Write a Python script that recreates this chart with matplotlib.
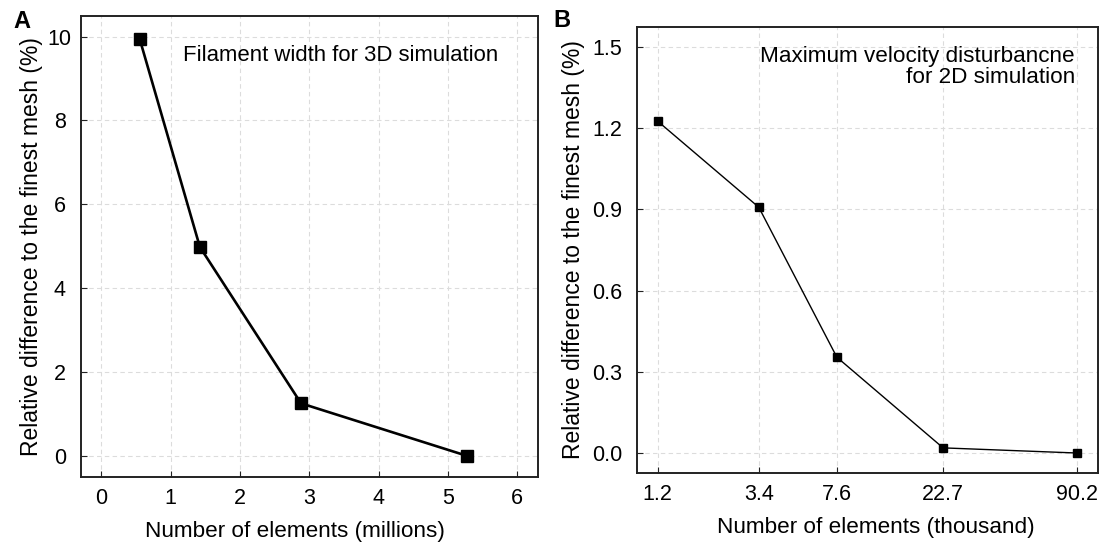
import matplotlib.pyplot as plt

plt.rcParams['font.family'] = ['Liberation Sans', 'DejaVu Sans']

# Panel A: filament width, 3D simulation
elements_3d = [0.55, 1.42, 2.88, 5.27]          # millions
diff_3d = [9.95, 4.98, 1.25, 0.0]               # %

# Panel B: max velocity disturbance, 2D simulation
elements_2d = [1.2, 3.4, 7.6, 22.7, 90.2]       # thousand
diff_2d = [1.226, 0.908, 0.354, 0.019, 0.0]     # %
xticks_2d = ['1.2', '3.4', '7.6', '22.7', '90.2']

fs = 15.5
fig = plt.figure(figsize=(11.1, 5.47), dpi=100)
ax1 = fig.add_axes([0.0727, 0.1285, 0.412, 0.843])
ax2 = fig.add_axes([0.5736, 0.1347, 0.4156, 0.8165])

for ax in (ax1, ax2):
    ax.grid(True, color='#dcdcdc', linestyle=(0, (4, 3)), linewidth=0.8)
    ax.set_axisbelow(True)
    for s in ax.spines.values():
        s.set_linewidth(1.4)
        s.set_color('#222222')
    ax.tick_params(direction='in', length=4, width=0.8, labelsize=fs,
                   colors='#222222', labelcolor='black')
    ax.tick_params(axis='x', pad=8)
    ax.set_ylabel('Relative difference to the finest mesh (%)', fontsize=16.5)

# A
ax1.plot(elements_3d, diff_3d, color='black', lw=1.9, marker='s', ms=8.5)
ax1.set_xlim(-0.3, 6.3)
ax1.set_ylim(-0.5, 10.5)
ax1.set_xticks(range(0, 7))
ax1.set_yticks(range(0, 11, 2))
ax1.tick_params(axis='y', pad=15)
for lab in ax1.get_yticklabels():
    lab.set_horizontalalignment('center')
ax1.set_xlabel('Number of elements (millions)', fontsize=16.2)
ax1.xaxis.set_label_coords(0.4675, -0.095)
ax1.yaxis.set_label_coords(-0.082, 0.5)
ax1.text(0.9125, 0.913, 'Filament width for 3D simulation', transform=ax1.transAxes,
         ha='right', va='center', fontsize=15.9)
fig.text(0.0195, 0.96, 'A', fontsize=17, fontweight='bold', ha='center', va='center')

# B
ax2.plot(elements_2d, diff_2d, color='black', lw=1.0, marker='s', ms=6)
ax2.set_xscale('log')
ax2.set_xticks(elements_2d)
ax2.set_xticklabels(xticks_2d)
ax2.xaxis.set_minor_locator(plt.NullLocator())
ax2.set_ylim(-0.075, 1.575)
ax2.set_yticks([0.0, 0.3, 0.6, 0.9, 1.2, 1.5])
ax2.set_yticklabels(['0.0', '0.3', '0.6', '0.9', '1.2', '1.5'])
ax2.tick_params(axis='y', pad=10.6)
ax2.set_xlabel('Number of elements (thousand)', fontsize=16.2)
ax2.xaxis.set_label_coords(0.519, -0.098)
ax2.yaxis.set_label_coords(-0.112, 0.5)
ax2.text(0.95, 0.91, 'Maximum velocity disturbancne\nfor 2D simulation',
         transform=ax2.transAxes, ha='right', va='center', fontsize=16.2, linespacing=1.02)
fig.text(0.506, 0.962, 'B', fontsize=17, fontweight='bold', ha='center', va='center')

fig.savefig('out.png', dpi=100)
